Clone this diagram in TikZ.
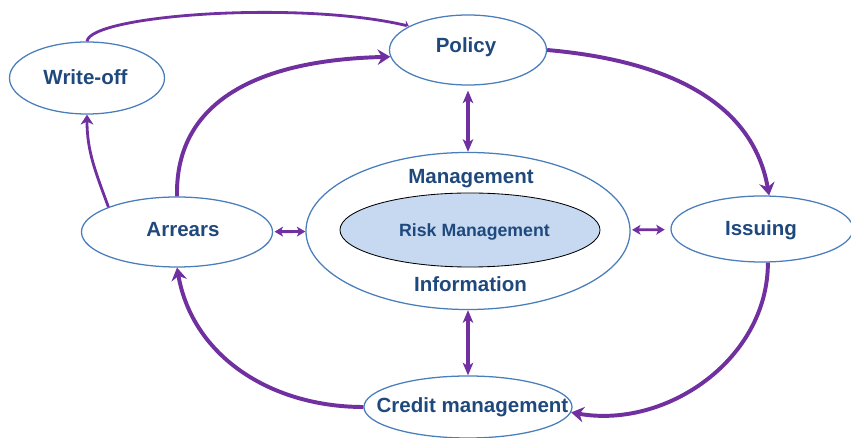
\documentclass[tikz,border=0pt]{standalone}
\usepackage{fontspec}
\setmainfont{Liberation Sans}
\usepackage{tikz}
\usetikzlibrary{arrows.meta,shapes.geometric}
\definecolor{txtblue}{HTML}{1F497D}
\definecolor{lineblue}{HTML}{4A7EBB}
\definecolor{arrpurple}{HTML}{7030A0}
\definecolor{riskfill}{HTML}{C6D9F1}
\tikzset{
	oval/.style={ellipse, draw=lineblue, line width=0.9pt, inner sep=0pt},
	lbl/.style={anchor=base, inner sep=0pt, text=txtblue, font=\fontsize{14.6}{17}\selectfont\bfseries},
	flow/.style={draw=arrpurple, line width=2.8pt, -{Stealth[length=9pt,width=11pt,inset=3pt]}},
	thinflow/.style={draw=arrpurple, line width=2pt, -{Stealth[length=7pt,width=9pt,inset=2pt]}},
	vlink/.style={draw=arrpurple, line width=2.2pt, {Stealth[length=9pt,width=7.5pt,inset=2.5pt]}-{Stealth[length=9pt,width=7.5pt,inset=2.5pt]}},
	hlink/.style={draw=arrpurple, line width=2pt, {Stealth[length=6pt,width=7pt,inset=1.5pt]}-{Stealth[length=6pt,width=7pt,inset=1.5pt]}}
}

\begin{document}
\begin{tikzpicture}[x=0.025cm, y=-0.025cm]
			%%%%% START %%%%%
			\useasboundingbox (0, 0) rectangle (851, 438);
			
			\node[oval, minimum width=3.925cm, minimum height=1.75cm] (policy) at (468, 50) {};
			\node[oval, minimum width=3.875cm, minimum height=1.8cm] (writeoff) at (87, 78) {};
			\node[oval, minimum width=4.775cm, minimum height=1.75cm] (arrears) at (177, 232) {};
			\node[oval, minimum width=4.55cm, minimum height=1.65cm] (issuing) at (762, 229) {};
			\node[oval, minimum width=5.2cm, minimum height=1.55cm] (credit) at (468, 407) {};
			\node[oval, minimum width=8.1cm, minimum height=3.925cm] (mis) at (468, 231) {};
			\node[ellipse, draw=black, line width=0.6pt, fill=riskfill, inner sep=0pt, minimum width=6.5cm, minimum height=1.85cm] (risk) at (470, 230) {};
			
			\node[lbl] (policyT) at (466, 53) {Policy};
			\node[lbl] (writeoffT) at (85.5, 85) {Write-off};
			\node[lbl] (arrearsT) at (183, 236.7) {Arrears};
			\node[lbl] (issuingT) at (761, 235.7) {Issuing};
			\node[lbl] (creditT) at (472.5, 413) {Credit management};
			\node[lbl] (manageT) at (471, 183.3) {Management};
			\node[lbl] (infoT) at (470.5, 291.7) {Information};
			\node[lbl, font=\fontsize{12.6}{15}\selectfont\bfseries] (riskT) at (474.5, 236.7) {Risk Management};
			
			% cycle
			\draw[thinflow, -{Stealth[length=3pt,width=7pt,inset=1pt,harpoon]}] (writeoff.north) .. controls (90, 15) and (300, 0) .. (policy.158);
			\draw[flow] (arrears.north) .. controls (175, 100) and (260, 60) .. (policy.185);
			\draw[thinflow] (arrears.160) to[out=110, in=270] (writeoff.south);
			\draw[flow] (policy.east) to[out=-5, in=100] (issuing.78);
			\draw[flow] (issuing.-80) to[out=-90, in=-10] (credit.-3);
			\draw[flow] (credit.west) to[out=180, in=-80] (arrears.south);
			
			% links to the centre
			\draw[vlink, shorten <=3.5pt] (policy) -- (mis);
			\draw[vlink] (mis) -- (credit);
			\draw[hlink, shorten <=1pt] (arrears) -- (mis);
			\draw[hlink, shorten <=1pt, shorten >=4pt] (mis) -- (issuing);
			%%%%% END %%%%%
\end{tikzpicture}
\end{document}
